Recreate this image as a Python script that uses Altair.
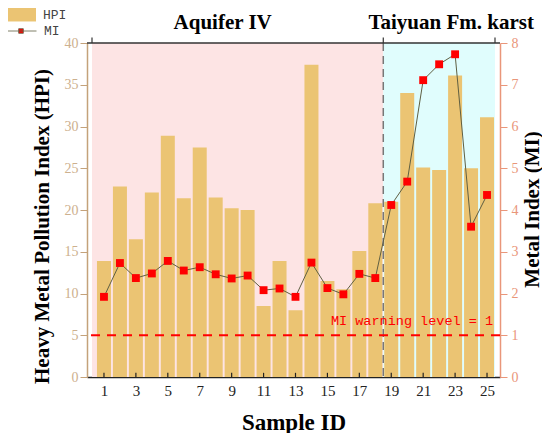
import altair as alt
import pandas as pd

# ---------------- data ----------------
sample_ids = list(range(1, 26))
hpi = [13.9, 22.8, 16.5, 22.1, 28.9, 21.4, 27.5, 21.5, 20.2, 20.0,
       8.5, 13.9, 8.0, 37.4, 11.5, 10.5, 15.1, 20.8, 21.0, 34.0,
       25.1, 24.8, 36.1, 25.0, 31.1]
mi = [1.92, 2.73, 2.37, 2.48, 2.78, 2.55, 2.63, 2.46, 2.36, 2.43,
      2.08, 2.12, 1.92, 2.74, 2.13, 1.98, 2.47, 2.37, 4.12, 4.68,
      7.11, 7.49, 7.73, 3.60, 4.36]
region_names = ["Aquifer IV", "Taiyuan Fm. karst"]
region_start = [0.25, 18.5]
region_end = [18.5, 25.5]
region_colors = ["#FDE4E4", "#E0FDFD"]
x_tick_values = list(range(1, 26, 2))
hpi_ticks = list(range(0, 41, 5))
mi_ticks = list(range(0, 9, 1))
mi_warning = 1

# ---------------- styles ----------------
bar_color = "#EBC473"
line_color = "#5F5F42"
left_color = "#C4A27A"
left_label_color = "#CDB08E"
right_color = "#E9967A"
serif = "Liberation Serif"
mono = "Liberation Mono"

df = pd.DataFrame({"sample": sample_ids, "hpi": hpi, "mi": mi})
df["hpi_series"] = "HPI"
df["mi_series"] = "MI"

regions = pd.DataFrame({"name": region_names, "start": region_start,
                        "end": region_end})
regions["mid"] = (regions["start"] + regions["end"]) / 2
bounds = pd.DataFrame({"b": region_start + [region_end[-1]]})
inner = pd.DataFrame({"b": region_start[1:]})
xticks = pd.DataFrame({"t": x_tick_values})

x_scale = alt.Scale(domain=[region_start[0], region_end[-1]], nice=False, zero=False)
x_axis = alt.Axis(values=x_tick_values, ticks=False, tickSize=0, grid=False,
                  labelFont=serif, labelFontSize=15, labelColor="#222",
                  labelPadding=6, labelFlush=False,
                  domainColor="#222", domainWidth=1.5,
                  title="Sample ID", titleFont=serif, titleFontSize=23,
                  titleFontWeight="bold", titleColor="black",
                  titleY=45, titleBaseline="middle")

yl_scale = alt.Scale(domain=[0, 40], nice=False)
yl_axis = alt.Axis(values=hpi_ticks, grid=False, orient="left",
                   labelFont=serif, labelFontSize=14, labelColor=left_label_color,
                   labelPadding=2, tickSize=7, tickColor=left_color,
                   domainColor=left_color, domainWidth=1.5,
                   title="Heavy Metal Pollution Index (HPI)", titleFont=serif,
                   titleFontSize=21, titleFontWeight="bold", titleColor="black",
                   titleAngle=270, titleX=-45, titleY=183, titleBaseline="middle",
                   titleAlign="center")

yr_scale = alt.Scale(domain=[0, 8], nice=False)
yr_axis = alt.Axis(values=mi_ticks, grid=False, orient="right",
                   labelFont=serif, labelFontSize=14, labelColor=right_color,
                   labelPadding=4, tickSize=7, tickColor=right_color,
                   domainColor=right_color, domainWidth=1.5,
                   title="Metal Index (MI)", titleFont=serif,
                   titleFontSize=21, titleFontWeight="bold", titleColor="black",
                   titleAngle=270, titleX=32, titleY=166, titleBaseline="middle",
                   titleAlign="center")


def X(field):
    return alt.X(field, type="quantitative", scale=x_scale, axis=x_axis)


def YL(field):
    return alt.Y(field, type="quantitative", scale=yl_scale, axis=yl_axis)


def YR(field):
    return alt.Y(field, type="quantitative", scale=yr_scale, axis=yr_axis)


# ---------------- left (HPI) layers ----------------
bg = alt.Chart(regions).mark_rect().encode(
    x=X("start"), x2="end",
    y=alt.YDatum(0, scale=yl_scale, axis=yl_axis), y2=alt.datum(40),
    color=alt.Color("name:N", scale=alt.Scale(domain=region_names, range=region_colors),
                    legend=None),
)

bars = alt.Chart(df).mark_bar(width=14).encode(
    x=X("sample"), y=YL("hpi"),
    fill=alt.Fill("hpi_series:N",
                  scale=alt.Scale(domain=["HPI"], range=[bar_color]),
                  legend=alt.Legend(title=None, orient="none", legendX=-82, legendY=-44,
                                    symbolType="M-1,-0.45H1V0.45H-1Z", symbolSize=961,
                                    symbolStrokeWidth=0, labelFont=mono, labelFontSize=13,
                                    labelColor="#444", labelOffset=7, padding=0)),
)

vline = alt.Chart(inner).mark_rule(color="#777777", strokeDash=[8, 5], strokeWidth=1.5).encode(
    x=X("b")
)

top_rule = alt.Chart(regions.head(1)).mark_rule(color="#333333", strokeWidth=1.5).encode(
    y=alt.YDatum(40, scale=yl_scale, axis=yl_axis)
)

top_ticks = alt.Chart(bounds).mark_rule(color="#333333", strokeWidth=1.2).encode(
    x=X("b"), y=alt.YDatum(40, scale=yl_scale, axis=yl_axis), y2=alt.datum(40.65)
)

bottom_ticks = alt.Chart(xticks).mark_rule(color="#222222", strokeWidth=1.2).encode(
    x=X("t"), y=alt.YDatum(0, scale=yl_scale, axis=yl_axis), y2=alt.datum(0.5)
)

title_dx = [-15, 12]
titles = [
    alt.Chart(regions.iloc[[i]]).mark_text(font=serif, fontSize=21, fontWeight="bold",
                                           color="black", baseline="middle", dx=title_dx[i]).encode(
        x=X("mid"), y=alt.YDatum(42.4, scale=yl_scale, axis=yl_axis), text="name:N"
    )
    for i in range(len(region_names))
]

left = alt.layer(bg, bars, vline, top_rule, top_ticks, bottom_ticks, *titles)

# ---------------- right (MI) layers ----------------
line = alt.Chart(df).mark_line(strokeWidth=1).encode(
    x=X("sample"), y=YR("mi"),
    stroke=alt.Stroke("mi_series:N",
                      scale=alt.Scale(domain=["MI"], range=[line_color]),
                      legend=alt.Legend(title=None, orient="none", legendX=-82, legendY=-28,
                                        symbolType="M-1,0H1M-0.15,-0.15H0.15V0.15H-0.15Z",
                                        symbolSize=961, symbolFillColor="#FF0000",
                                        symbolStrokeWidth=0.8, labelFont=mono, labelFontSize=13,
                                        labelColor="#444", labelOffset=7, padding=0)),
)

points = alt.Chart(df).mark_square(size=62, color="#FF0000", opacity=1).encode(
    x=X("sample"), y=YR("mi")
)

warn_rule = alt.Chart(regions.head(1)).mark_rule(color="#FF0000", strokeDash=[9, 7],
                                                 strokeWidth=2).encode(
    y=alt.YDatum(mi_warning, scale=yr_scale, axis=yr_axis)
)

warn_text = alt.Chart(regions.tail(1)).mark_text(font=mono, fontSize=13.5, color="#FF0000",
                                                 align="right", baseline="middle",
                                                 dx=-2, dy=-14).encode(
    x=X("end"), y=alt.YDatum(mi_warning, scale=yr_scale, axis=yr_axis),
    text=alt.value(f"MI warning level = {mi_warning}")
)

right = alt.layer(line, points, warn_rule, warn_text)

chart = alt.layer(left, right).resolve_scale(y="independent").properties(
    width=413, height=334,
    padding={"left": 79, "top": 35, "right": 42, "bottom": 56},
    autosize=alt.AutoSizeParams(type="none"),
    background="white",
).configure_view(stroke=None)

chart.save("out.html", embed_options={"renderer": "svg", "actions": False})
